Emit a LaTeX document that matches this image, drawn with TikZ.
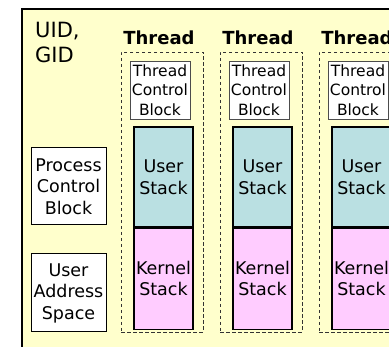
\documentclass[tikz,border=0pt]{standalone}
\usepackage{fontspec}
\setmainfont{DejaVu Sans}
\usepackage{tikz}
\usetikzlibrary{positioning}

\definecolor{procbg}{RGB}{255,255,204}
\definecolor{ustack}{RGB}{186,224,226}
\definecolor{kstack}{RGB}{255,204,255}

\begin{document}
\begin{tikzpicture}[
  x=1pt, y=-1pt,
  label/.style={font=\fontsize{17.5}{21.5}\selectfont, align=center, inner sep=0pt},
  memblock/.style={draw=black, line width=1pt, fill=white, label,
                   minimum width=75pt},
  tcb/.style={draw=black!70, line width=0.8pt, fill=white, align=center, inner sep=0pt,
              font=\fontsize{15.5}{19.5}\selectfont, minimum width=60pt, minimum height=58pt},
  stackbox/.style={draw=black, line width=1.1pt, label, minimum width=59pt},
  threadbox/.style={draw=black!80, dashed, dash pattern=on 3.5pt off 2.5pt, line width=0.7pt,
                    minimum width=82pt, minimum height=280pt, inner sep=0pt},
  threadname/.style={font=\fontsize{18}{20}\selectfont\bfseries, inner sep=0pt},
]
  \clip (0,0) rectangle (389,347);
  \useasboundingbox (0,0) rectangle (389,347);

  % --- the process ---
  \node[draw=black, line width=2pt, fill=procbg, minimum width=400pt, minimum height=360pt,
        anchor=north west, inner sep=0pt] (proc) at (21,8) {};
  \node[anchor=north west, align=left, inner sep=0pt,
        font=\fontsize{21}{25}\selectfont] (ids) at (35,22) {UID,\\GID};
  \node[memblock, minimum height=77pt] (pcb) at (68.5,186.5) {Process\\Control\\Block};
  \node[memblock, minimum height=78pt] (uas) at (68.5,293) {User\\Address\\Space};

  % --- one column per thread ---
  \foreach \i in {0,1,2} {
    \pgfmathsetmacro{\dx}{99*\i}
    \node[threadname] (name\i) at (159+\dx,38) {Thread};
    \node[threadbox] (thr\i) at (162+\dx,192) {};
    \node[tcb] (tcb\i) at (160+\dx,90) {Thread\\Control\\Block};
    \node[stackbox, fill=ustack, minimum height=100pt] (us\i) at (163.5+\dx,177) {User\\Stack};
    \node[stackbox, fill=kstack, minimum height=101pt, below=0pt of us\i] (ks\i) {Kernel\\Stack};
  }
\end{tikzpicture}
\end{document}
